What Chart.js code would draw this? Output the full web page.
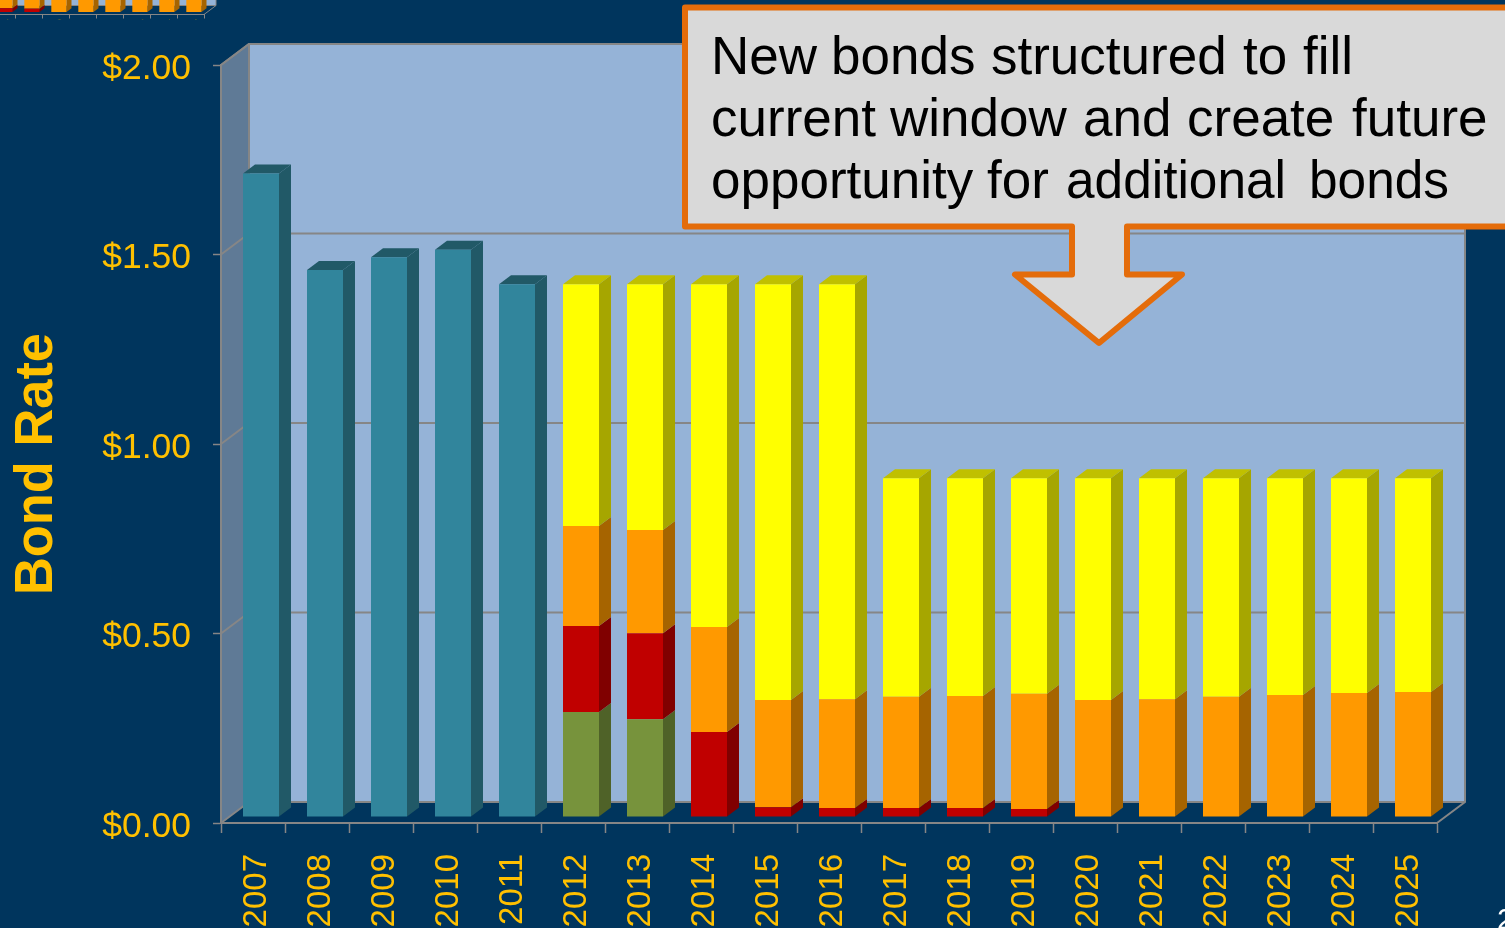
<!DOCTYPE html>
<html>
<head>
<meta charset="utf-8">
<title>Bond Rate</title>
<script src="https://cdn.jsdelivr.net/npm/chart.js@4"></script>
<style>
  html, body { margin: 0; padding: 0; width: 1505px; height: 928px; overflow: hidden; background: #00355D; }
  canvas { position: absolute; display: block; }
  #main { left: 0; top: 0; }
  #strip { left: -12px; top: 0; }
</style>
</head>
<body>
<canvas id="main" width="1505" height="928"></canvas>
<canvas id="strip" width="237" height="20"></canvas>
<script>
// Bond rate per year, split by the bond issue that carries it
const years = ['2007','2008','2009','2010','2011','2012','2013','2014','2015','2016','2017','2018','2019','2020','2021','2022','2023','2024','2025'];
const retiredBonds = [1.698,1.443,1.477,1.497,1.406,0,0,0,0,0,0,0,0,0,0,0,0,0,0];
const seriesA = [0,0,0,0,0,0.277,0.258,0,0,0,0,0,0,0,0,0,0,0,0];
const seriesB = [0,0,0,0,0,0.227,0.227,0.224,0.026,0.024,0.024,0.024,0.021,0,0,0,0,0,0];
const seriesC = [0,0,0,0,0,0.264,0.272,0.277,0.283,0.287,0.293,0.295,0.304,0.309,0.311,0.317,0.322,0.327,0.330];
const seriesD = [0,0,0,0,0,0.638,0.649,0.905,1.097,1.095,0.577,0.575,0.569,0.585,0.583,0.577,0.572,0.567,0.564];
const valueTicks = [0, 0.5, 1, 1.5, 2];
const calloutLines = ['New bonds structured to fill', 'current window and create future', 'opportunity for additional bonds'];
const calloutWordStarts = [[711, 831, 991, 1243, 1303], [711, 890, 1083, 1187, 1352], [711, 987, 1066, 1309]];
const calloutWordFit = [[], [], [, , 220, 140]];

const GOLD = '#FFC000';
const RULE = '#868686';
const FONT = '"Liberation Sans", Arial, sans-serif';

// Gives the flat bars and axes a box-like look: walls behind, side and top faces on each bar
const prism = {
  id: 'prism',
  beforeDraw(chart, args, o) {
    const { ctx, scales: { x, y } } = chart;
    const l = x.left, r = x.right, t = y.getPixelForValue(y.max), b = y.getPixelForValue(0);
    ctx.save();
    ctx.fillStyle = '#5F7A96';
    ctx.beginPath();
    ctx.moveTo(l, t); ctx.lineTo(l + o.dx, t + o.dy); ctx.lineTo(l + o.dx, b + o.dy); ctx.lineTo(l, b);
    ctx.closePath(); ctx.fill();
    ctx.fillStyle = '#95B3D7';
    ctx.fillRect(l + o.dx, t + o.dy, r - l, b - t);
    ctx.strokeStyle = RULE;
    ctx.lineWidth = o.line;
    y.ticks.forEach(tk => {
      if (tk.value === 0) return;
      const py = y.getPixelForValue(tk.value);
      ctx.beginPath();
      ctx.moveTo(l, py); ctx.lineTo(l + o.dx, py + o.dy); ctx.lineTo(r + o.dx, py + o.dy);
      ctx.stroke();
    });
    ctx.beginPath();
    ctx.moveTo(l, t); ctx.lineTo(l + o.dx, t + o.dy); ctx.lineTo(r + o.dx, t + o.dy);
    ctx.lineTo(r + o.dx, b + o.dy); ctx.lineTo(r, b);
    ctx.moveTo(l, b); ctx.lineTo(l + o.dx, b + o.dy); ctx.lineTo(r + o.dx, b + o.dy);
    ctx.moveTo(l + o.dx, t + o.dy); ctx.lineTo(l + o.dx, b + o.dy);
    ctx.stroke();
    ctx.restore();
  },
  beforeDatasetsDraw(chart, args, o) {
    const { ctx, data } = chart;
    ctx.save();
    ctx.translate(o.shiftX, o.shiftY);
    data.labels.forEach((_, i) => {
      let last = -1;
      data.datasets.forEach((ds, d) => {
        if (!ds.data[i]) return;
        last = d;
        const el = chart.getDatasetMeta(d).data[i];
        const xr = el.x + el.width / 2;
        ctx.fillStyle = ds.sideColor;
        ctx.beginPath();
        ctx.moveTo(xr, el.y); ctx.lineTo(xr + o.sideX, el.y + o.sideY);
        ctx.lineTo(xr + o.sideX, el.base + o.sideY); ctx.lineTo(xr, el.base);
        ctx.closePath(); ctx.fill();
      });
      if (last < 0) return;
      const el = chart.getDatasetMeta(last).data[i];
      const xl = el.x - el.width / 2, xr = el.x + el.width / 2;
      ctx.fillStyle = data.datasets[last].topColor;
      ctx.beginPath();
      ctx.moveTo(xl, el.y); ctx.lineTo(xl + o.sideX, el.y + o.sideY);
      ctx.lineTo(xr + o.sideX, el.y + o.sideY); ctx.lineTo(xr, el.y);
      ctx.closePath(); ctx.fill();
    });
  },
  afterDatasetsDraw(chart) {
    chart.ctx.restore();
  }
};

// Axis title, callout arrow and the cropped page number sit above the plot
const annotations = {
  id: 'annotations',
  afterDraw(chart) {
    const { ctx } = chart;
    ctx.save();
    ctx.translate(52, 464);
    ctx.rotate(-Math.PI / 2);
    ctx.fillStyle = GOLD;
    ctx.font = 'bold 54px ' + FONT;
    ctx.textAlign = 'center';
    ctx.textBaseline = 'alphabetic';
    ctx.fillText('Bond Rate', 0, 0, 262);
    ctx.restore();

    ctx.save();
    ctx.beginPath();
    ctx.moveTo(685, 7.5); ctx.lineTo(1515, 7.5); ctx.lineTo(1515, 226.5);
    ctx.lineTo(1127, 226.5); ctx.lineTo(1127, 274.5); ctx.lineTo(1182, 274.5);
    ctx.lineTo(1099, 343); ctx.lineTo(1015, 274.5); ctx.lineTo(1072, 274.5);
    ctx.lineTo(1072, 226.5); ctx.lineTo(685, 226.5); ctx.closePath();
    ctx.fillStyle = '#D9D9D9';
    ctx.fill();
    ctx.strokeStyle = '#E46C0A';
    ctx.lineWidth = 6;
    ctx.lineJoin = 'round';
    ctx.stroke();
    ctx.fillStyle = '#000000';
    ctx.font = '53px ' + FONT;
    ctx.textAlign = 'left';
    ctx.textBaseline = 'alphabetic';
    calloutLines.forEach((line, i) => {
      line.split(' ').forEach((word, w) => {
        const y = 74 + i * 62, fit = calloutWordFit[i][w];
        if (fit) ctx.fillText(word, calloutWordStarts[i][w], y, fit);
        else ctx.fillText(word, calloutWordStarts[i][w], y);
      });
    });

    ctx.fillStyle = '#FFFFFF';
    ctx.font = '30px ' + FONT;
    ctx.fillText('2', 1497, 929);
    ctx.restore();
  }
};

function buildDatasets(from) {
  const part = a => a.slice(from);
  const bar = (label, data, backgroundColor, sideColor, topColor) =>
    ({ label, data: part(data), backgroundColor, sideColor, topColor, borderWidth: 0, clip: false,
       barPercentage: 0.5625, categoryPercentage: 1, stack: 'rate' });
  return [
    bar('Retired bonds', retiredBonds, '#31859C', '#215967', '#215967'),
    bar('Series A', seriesA, '#77933C', '#4F6228', '#4F6228'),
    bar('Series B', seriesB, '#C00000', '#800000', '#800000'),
    bar('Series C', seriesC, '#FF9900', '#A66400', '#A66400'),
    bar('Series D', seriesD, '#FFFF00', '#A6A600', '#C0C000')
  ];
}

new Chart(document.getElementById('main'), {
  type: 'bar',
  data: { labels: years, datasets: buildDatasets(0) },
  plugins: [prism, annotations],
  options: {
    responsive: false,
    animation: false,
    layout: { padding: { top: 65, right: 68, left: 0, bottom: 0 } },
    plugins: {
      legend: { display: false },
      tooltip: { enabled: false },
      prism: { dx: 28, dy: -21, shiftX: 8, shiftY: -6, sideX: 12, sideY: -9, line: 2 }
    },
    scales: {
      x: {
        stacked: true,
        offset: true,
        afterFit(s) { s.height = 105; },
        border: { color: RULE, width: 2 },
        grid: { offset: true, drawOnChartArea: false, drawTicks: true, tickLength: 10, tickColor: RULE, tickWidth: 1.5 },
        ticks: { color: GOLD, font: { family: FONT, size: 33 }, minRotation: 90, maxRotation: 90, autoSkip: false, padding: 21, labelOffset: 4 }
      },
      y: {
        stacked: true,
        min: 0,
        max: 2,
        afterFit(s) { s.width = 221; },
        afterBuildTicks(s) { s.ticks = valueTicks.map(value => ({ value })); },
        border: { color: RULE, width: 2 },
        grid: { drawOnChartArea: false, drawTicks: true, tickLength: 8, tickColor: RULE, tickWidth: 1.5 },
        ticks: { color: GOLD, font: { family: FONT, size: 35.5 }, padding: 22, labelOffset: 4, callback: v => '$' + Number(v).toFixed(2) }
      }
    }
  }
});

// Bottom edge of the companion chart that runs off the top of the slide
new Chart(document.getElementById('strip'), {
  type: 'bar',
  data: { labels: years.slice(11), datasets: buildDatasets(11) },
  plugins: [prism],
  options: {
    responsive: false,
    animation: false,
    layout: { padding: { top: 0, right: 21, left: 0, bottom: 0 } },
    plugins: {
      legend: { display: false },
      tooltip: { enabled: false },
      prism: { dx: 12, dy: -9, shiftX: 3.4, shiftY: -2.5, sideX: 5, sideY: -3.8, line: 1 }
    },
    scales: {
      x: {
        stacked: true,
        offset: true,
        afterFit(s) { s.height = 5.5; },
        border: { color: RULE, width: 1 },
        grid: { offset: true, drawOnChartArea: false, drawTicks: true, tickLength: 4, tickColor: RULE, tickWidth: 1 },
        ticks: { color: GOLD, font: { family: FONT, size: 13.5 }, minRotation: 90, maxRotation: 90, autoSkip: false, padding: 0.8, labelOffset: 5 }
      },
      y: { display: false, stacked: true, min: 0, max: 0.0907 }
    }
  }
});
</script>
</body>
</html>
